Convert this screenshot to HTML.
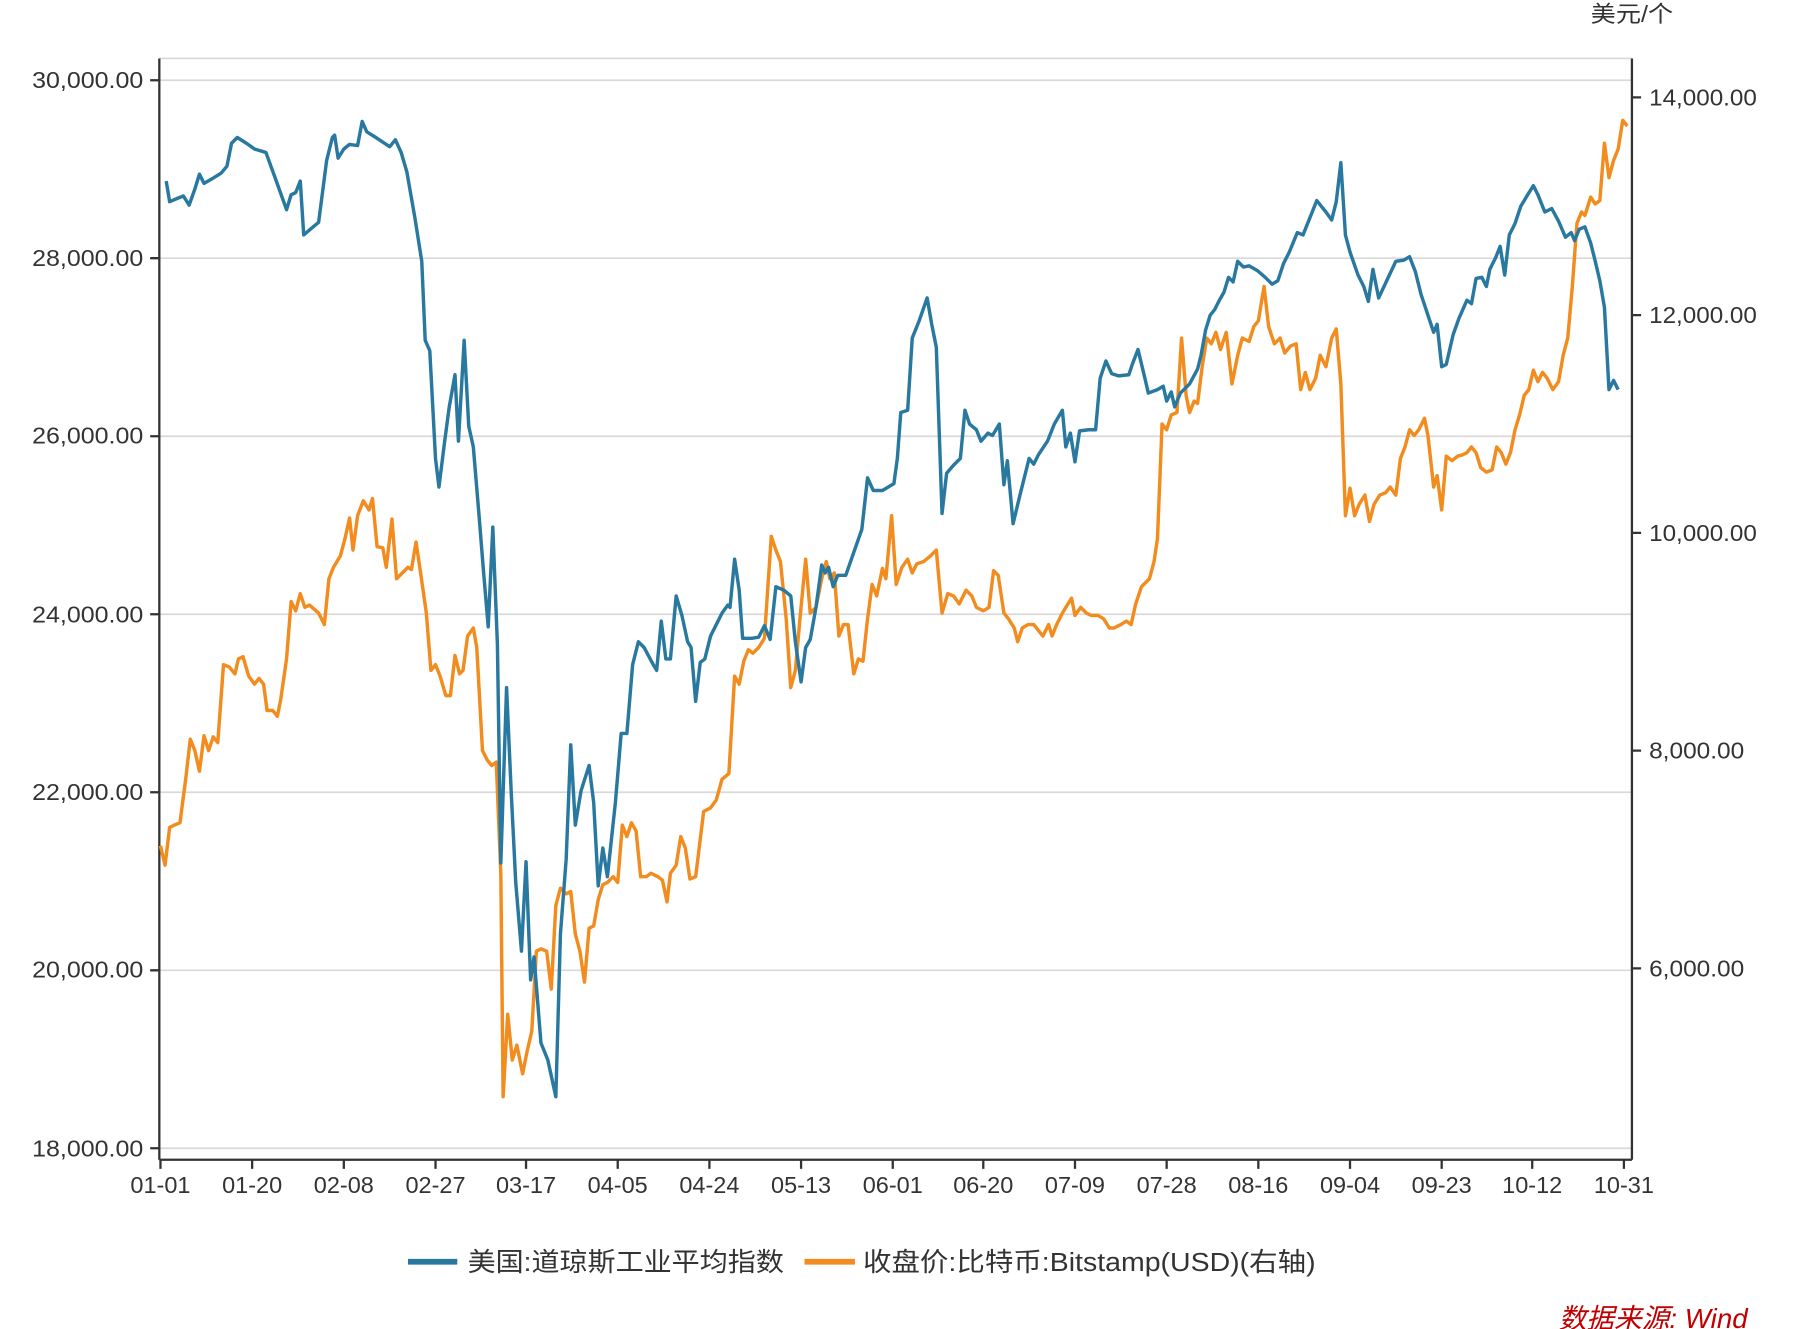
<!DOCTYPE html>
<html><head><meta charset="utf-8"><style>
html,body{margin:0;padding:0;background:#fff;}
svg{display:block;}
text{font-family:"Liberation Sans","Noto Sans CJK SC",sans-serif;fill:#333;}
</style></head><body>
<svg width="1794" height="1329" viewBox="0 0 1565.4 1159.7" xmlns="http://www.w3.org/2000/svg">
<g stroke="#d9d9d9" stroke-width="1.5">
<line x1="139" y1="51" x2="1424" y2="51"/>
<line x1="139" y1="70" x2="1424" y2="70"/>
<line x1="139" y1="225.3" x2="1424" y2="225.3"/>
<line x1="139" y1="380.7" x2="1424" y2="380.7"/>
<line x1="139" y1="536" x2="1424" y2="536"/>
<line x1="139" y1="691.3" x2="1424" y2="691.3"/>
<line x1="139" y1="846.7" x2="1424" y2="846.7"/>
<line x1="139" y1="1002" x2="1424" y2="1002"/>
</g>
<g stroke="#333" stroke-width="2" fill="none">
<line x1="139" y1="51" x2="139" y2="1012"/>
<line x1="1424" y1="51" x2="1424" y2="1012"/>
<line x1="139" y1="1012" x2="1424" y2="1012"/>
<path d="M131 70H139M131 225.3H139M131 380.7H139M131 536H139M131 691.3H139M131 846.7H139M131 1002H139"/>
<path d="M1424 85H1432M1424 275H1432M1424 465H1432M1424 655H1432M1424 845H1432"/>
<path d="M140 1012v8M220 1012v8M300 1012v8M380 1012v8M459 1012v8M539 1012v8M619 1012v8M699 1012v8M779 1012v8M858 1012v8M938 1012v8M1018 1012v8M1098 1012v8M1178 1012v8M1258 1012v8M1337 1012v8M1417 1012v8"/>
</g>
<g font-size="20">
<text x="28" y="77" textLength="97" lengthAdjust="spacingAndGlyphs">30,000.00</text>
<text x="28" y="232" textLength="97" lengthAdjust="spacingAndGlyphs">28,000.00</text>
<text x="28" y="387" textLength="97" lengthAdjust="spacingAndGlyphs">26,000.00</text>
<text x="28" y="543" textLength="97" lengthAdjust="spacingAndGlyphs">24,000.00</text>
<text x="28" y="698" textLength="97" lengthAdjust="spacingAndGlyphs">22,000.00</text>
<text x="28" y="853" textLength="97" lengthAdjust="spacingAndGlyphs">20,000.00</text>
<text x="28" y="1009" textLength="97" lengthAdjust="spacingAndGlyphs">18,000.00</text>
</g>
<g font-size="20">
<text x="1439" y="92" textLength="94" lengthAdjust="spacingAndGlyphs">14,000.00</text>
<text x="1439" y="282" textLength="94" lengthAdjust="spacingAndGlyphs">12,000.00</text>
<text x="1439" y="472" textLength="94" lengthAdjust="spacingAndGlyphs">10,000.00</text>
<text x="1439" y="662" textLength="83" lengthAdjust="spacingAndGlyphs">8,000.00</text>
<text x="1439" y="852" textLength="83" lengthAdjust="spacingAndGlyphs">6,000.00</text>
<text x="1388" y="19" textLength="72" lengthAdjust="spacingAndGlyphs">美元/个</text>
</g>
<g font-size="20.5" text-anchor="middle">
<text x="140" y="1041">01-01</text><text x="220" y="1041">01-20</text><text x="300" y="1041">02-08</text><text x="380" y="1041">02-27</text><text x="459" y="1041">03-17</text><text x="539" y="1041">04-05</text><text x="619" y="1041">04-24</text><text x="699" y="1041">05-13</text><text x="779" y="1041">06-01</text><text x="858" y="1041">06-20</text><text x="938" y="1041">07-09</text><text x="1018" y="1041">07-28</text><text x="1098" y="1041">08-16</text><text x="1178" y="1041">09-04</text><text x="1258" y="1041">09-23</text><text x="1337" y="1041">10-12</text><text x="1417" y="1041">10-31</text>
</g>
<polyline fill="none" stroke="#f28c1f" stroke-width="3" stroke-linejoin="round" points="140,738 144,755 148,722 152,720 157,718 162,680 166,645 170,655 174,673 178,642 182,655 186,643 190,648 195,580 200,582 205,588 208,575 212,573 217,590 222,597 226,592 230,597 233,620 238,620 242,625 245,610 250,575 254,525 258,533 262,518 266,530 270,528 278,535 283,545 287,505 291,495 297,485 301,470 305,452 308,480 312,450 317,437 322,445 325,435 329,477 334,478 337,495 342,453 346,505 351,500 356,495 359,497 363,473 367,500 372,535 376,585 380,580 384,590 389,607 393,607 397,572 401,588 404,585 408,555 413,548 416,565 421,655 425,663 429,668 433,665 437,763 439,957 443,885 447,925 451,912 456,937 460,917 464,900 468,830 472,828 477,830 481,863 485,790 489,775 494,780 498,778 502,815 506,830 510,857 514,810 518,808 522,785 526,772 530,770 535,765 539,770 543,720 547,730 551,718 555,725 559,765 564,765 568,762 574,765 578,768 582,787 585,762 590,755 594,730 598,740 602,767 607,765 614,708 620,705 625,698 630,680 636,675 641,590 645,597 649,577 653,567 657,570 662,565 667,557 673,468 677,480 681,490 686,540 690,600 694,585 698,540 703,488 707,535 712,530 717,505 721,490 724,505 728,500 732,555 736,545 740,545 745,588 749,575 753,577 757,540 761,510 765,520 770,496 773,505 778,450 782,510 787,495 792,488 796,500 800,492 806,490 812,485 817,480 822,535 827,518 832,520 837,527 843,515 848,520 852,530 858,533 863,530 867,498 871,502 876,535 880,540 885,548 888,560 892,548 897,545 902,545 906,550 910,555 915,545 918,555 922,545 927,535 930,530 935,522 938,537 943,530 948,535 952,537 958,537 963,540 968,548 972,548 978,545 983,542 987,545 991,527 996,512 1003,505 1007,490 1010,470 1014,370 1018,375 1022,362 1027,360 1031,295 1035,345 1038,360 1042,350 1045,352 1049,320 1053,295 1057,300 1061,290 1065,305 1070,290 1075,335 1080,310 1084,295 1090,298 1094,285 1098,280 1103,250 1107,285 1112,300 1117,295 1121,308 1126,302 1131,300 1135,340 1139,325 1143,340 1148,330 1152,310 1157,320 1162,295 1166,287 1170,335 1174,450 1178,426 1182,450 1186,440 1191,432 1195,455 1199,440 1204,432 1209,430 1213,425 1218,432 1222,400 1226,390 1230,375 1234,380 1238,375 1243,365 1246,380 1251,425 1254,415 1258,445 1262,398 1267,402 1272,398 1276,397 1280,395 1284,390 1288,395 1292,408 1297,412 1302,410 1306,390 1310,395 1314,405 1318,395 1322,375 1326,362 1330,345 1334,340 1338,323 1342,333 1346,325 1350,330 1355,340 1360,333 1364,310 1368,295 1372,250 1376,195 1380,185 1383,188 1388,172 1392,178 1396,175 1400,125 1404,155 1408,140 1412,130 1416,105 1420,110"/>
<polyline fill="none" stroke="#2878a0" stroke-width="3" stroke-linejoin="round" points="145,158 148,176 155,173 160,171 165,179 170,165 174,152 178,160 185,156 193,151 198,145 202,125 207,120 215,125 222,130 232,133 240,155 250,183 254,170 258,168 262,158 265,205 272,199 278,194 285,140 290,120 292,118 295,138 300,130 305,126 312,127 316,106 320,115 328,120 340,128 345,122 350,133 355,150 362,190 368,228 371,297 375,306 380,400 383,425 388,385 392,355 397,327 400,385 405,297 409,372 413,390 418,450 422,500 426,547 430,460 434,562 437,753 442,600 446,690 450,770 455,830 459,752 463,855 466,835 472,910 478,925 485,957 489,815 494,750 498,650 502,720 507,690 514,668 518,700 522,773 526,740 530,765 537,700 542,640 547,640 552,580 557,560 562,565 570,580 573,585 577,542 581,575 585,575 590,520 595,537 600,560 603,565 607,612 611,578 615,575 620,555 625,545 630,535 635,528 637,530 641,488 645,515 648,557 656,557 662,556 667,546 672,558 677,512 684,515 690,520 694,560 699,595 703,565 707,558 712,530 717,493 720,500 723,495 727,512 731,502 738,502 745,482 752,462 757,417 762,428 770,428 780,422 783,400 786,360 792,358 796,295 802,280 809,260 813,283 817,303 822,448 826,413 832,406 838,400 842,358 846,370 852,375 856,385 862,378 866,380 872,370 876,423 879,402 884,457 890,432 898,400 902,405 906,397 914,385 920,370 927,358 930,390 934,378 938,403 942,376 950,375 956,375 960,330 965,315 970,326 976,328 985,327 988,318 993,305 999,330 1002,343 1010,340 1015,337 1018,350 1022,342 1025,355 1030,343 1038,335 1045,322 1048,310 1052,288 1056,275 1060,270 1064,262 1068,255 1072,242 1076,246 1080,228 1085,233 1090,232 1097,236 1104,242 1110,248 1115,245 1120,230 1125,220 1132,203 1137,205 1143,190 1149,175 1153,180 1157,185 1162,192 1166,176 1170,142 1174,205 1178,220 1185,240 1190,250 1194,263 1198,235 1203,260 1210,245 1218,228 1225,227 1230,224 1235,237 1240,257 1246,275 1251,290 1254,283 1258,320 1262,318 1268,292 1273,278 1280,262 1284,265 1288,243 1293,242 1297,250 1300,235 1305,225 1309,215 1313,240 1317,205 1322,195 1327,180 1333,170 1338,162 1342,170 1348,185 1354,182 1360,193 1366,207 1371,203 1374,210 1378,200 1383,198 1388,212 1392,228 1396,245 1400,268 1404,340 1408,332 1412,340"/>
<line x1="356" y1="1101" x2="399" y2="1101" stroke="#2878a0" stroke-width="5"/>
<line x1="702" y1="1101" x2="746" y2="1101" stroke="#f28c1f" stroke-width="5"/>
<text x="408" y="1109" font-size="23" textLength="276" lengthAdjust="spacingAndGlyphs">美国:道琼斯工业平均指数</text>
<text x="753" y="1109" font-size="23" textLength="395" lengthAdjust="spacingAndGlyphs">收盘价:比特币:Bitstamp(USD)(右轴)</text>
<text x="1525" y="1159" font-size="24" text-anchor="end" font-style="italic" style="fill:#c00000" textLength="165" lengthAdjust="spacingAndGlyphs">数据来源: Wind</text>
</svg>
</body></html>
